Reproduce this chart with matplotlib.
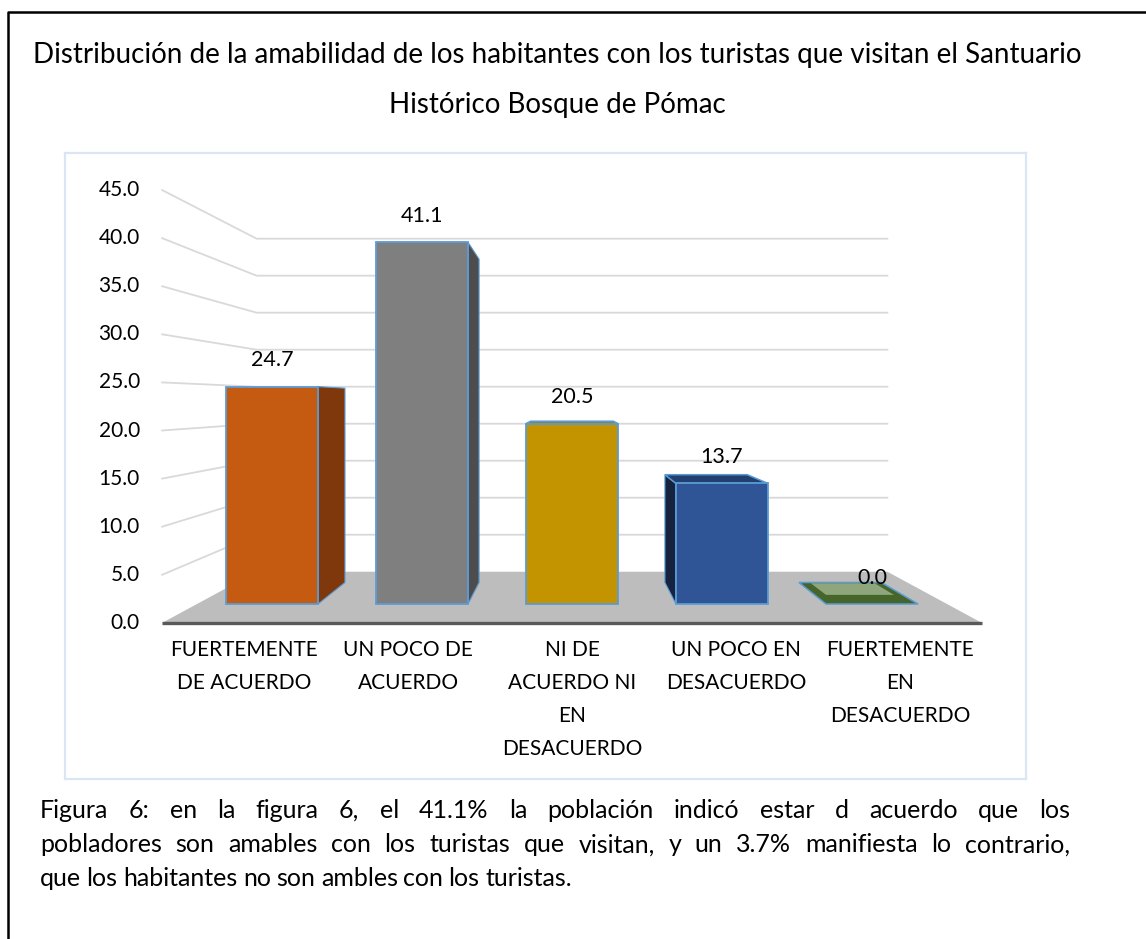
#===============================================================================
# Distribucion de la amabilidad - pseudo 3D column chart (Excel look)
#===============================================================================
import numpy as np
import matplotlib
matplotlib.use("Agg")
import matplotlib.pyplot as plt
from matplotlib.patches import Polygon
from matplotlib.lines import Line2D

plt.rcParams['font.family'] = ['Lato', 'DejaVu Sans']

#===============================================================================
# Data
#===============================================================================
categories = ["FUERTEMENTE\nDE ACUERDO", "UN POCO DE\nACUERDO",
              "NI DE\nACUERDO NI\nEN\nDESACUERDO", "UN POCO EN\nDESACUERDO",
              "FUERTEMENTE\nEN\nDESACUERDO"]
values = [24.7, 41.1, 20.5, 13.7, 0.0]
y_ticks = [0, 5, 10, 15, 20, 25, 30, 35, 40, 45]

front_colors = ["#C55A11", "#7F7F7F", "#C39400", "#2F5597", "#4B6B28"]
side_colors = ["#7E380C", "#4D4D4D", "#7F6000", "#15233F", "#3A5220"]
top_colors = ["#A34A0E", "#6A6A6A", "#A57E00", "#22406F", "#46652A"]

title_lines = ["Distribución de la amabilidad de los habitantes con los turistas que visitan el Santuario",
               "Histórico Bosque de Pómac"]
caption = ["Figura 6: en la figura 6, el 41.1% la población indicó estar d acuerdo que los",
           "pobladores son amables con los turistas que visitan, y un 3.7% manifiesta lo contrario,",
           "que los habitantes no son ambles con los turistas."]

#===============================================================================
# Perspective helpers
#===============================================================================
VX, VY = 2.0, 23.07          # vanishing point (data units)
SF, SB = 1.093, 0.841        # floor front / back depth scale
BF, BB = 1.0, 0.894          # bar front / back depth scale
HALF = 0.307


def proj(x, y, s):
    return VX + (x - VX) * s, VY + (y - VY) * s


W, H = 1146, 939
fig = plt.figure(figsize=(W / 100, H / 100), dpi=100)
fig.patch.set_facecolor("white")

# chart area
bx0, by0, bx1, by1 = 65, 153, 1026, 779
ax = fig.add_axes([bx0 / W, 1 - by1 / H, (bx1 - bx0) / W, (by1 - by0) / H])
ax.set_xlim((bx0 - 272) / 150, (bx1 - 272) / 150)
ax.set_ylim((604 - by1) / 8.8, (604 - by0) / 8.8)
ax.set_xticks([])
ax.set_yticks([])
for sp in ax.spines.values():
    sp.set_color("#DAE6F3")
    sp.set_linewidth(1.6)

n = len(values)
xl, xr = -0.5, n - 0.5

# gridlines: side wall + back wall
for v in y_ticks[1:]:
    pts = np.array([proj(xl, v, SF), proj(xl, v, SB), proj(xr, v, SB)])
    ax.plot(pts[:, 0], pts[:, 1], color="#D9D9D9", lw=1.3, zorder=1)

# floor
floor = [proj(xl, 0, SF), proj(xr, 0, SF), proj(xr, 0, SB), proj(xl, 0, SB)]
ax.add_patch(Polygon(floor, closed=True, facecolor="#BDBDBD", edgecolor="none", zorder=2))
fl = np.array([proj(xl, 0, SF), proj(xr, 0, SF)])
ax.plot(fl[:, 0], fl[:, 1], color="#595959", lw=2.4, zorder=2.5, solid_capstyle="butt")

# y tick labels on the front plane
for v in y_ticks:
    px, py = proj(xl, v, SF)
    ax.annotate("%.1f" % v, (px, py), xytext=(-16, 0), textcoords="offset points",
                ha="right", va="center", fontsize=15, color="#000000")

edge = "#5B9BD5"
for i, v in enumerate(values):
    x0, x1 = i - HALF, i + HALF
    # side face
    if i < VX - 1e-6:
        xs = x1
    elif i > VX + 1e-6:
        xs = x0
    else:
        xs = None
    if xs is not None and v > 0:
        side = [proj(xs, 0, BF), proj(xs, v, BF), proj(xs, v, BB), proj(xs, 0, BB)]
        ax.add_patch(Polygon(side, closed=True, facecolor=side_colors[i],
                             edgecolor=edge, lw=0.8, zorder=3))
    # top face
    if v < VY:
        top = [proj(x0, v, BF), proj(x1, v, BF), proj(x1, v, BB), proj(x0, v, BB)]
        ax.add_patch(Polygon(top, closed=True, facecolor=top_colors[i],
                             edgecolor=edge, lw=1.1, zorder=3.5))
        if v == 0:
            inner = [proj(x0 + 0.08, v, 0.955), proj(x1 - 0.06, v, 0.955),
                     proj(x1 - 0.06, v, BB + 0.004), proj(x0 + 0.08, v, BB + 0.004)]
            ax.add_patch(Polygon(inner, closed=True, facecolor="#8FA67C",
                                 edgecolor="none", zorder=3.6))
    # front face
    if v > 0:
        ax.add_patch(Polygon([(x0, 0), (x1, 0), (x1, v), (x0, v)], closed=True,
                             facecolor=front_colors[i], edgecolor=edge, lw=1.3, zorder=4))
    # value label
    ax.annotate("%.1f" % v, (i, v), xytext=(0, 19), textcoords="offset points",
                ha="center", va="center", fontsize=15.5, color="#000000", zorder=6)
    # category label
    cx, cy = proj(i, 0, SF)
    ax.annotate(categories[i], (cx, cy), xytext=(0, -12), textcoords="offset points",
                ha="center", va="top", fontsize=15, linespacing=1.82, color="#000000")

# title
for k, line in enumerate(title_lines):
    fig.text(557 / W, 1 - (55 + 50 * k) / H, line, ha="center", va="center",
             fontsize=20, color="#000000")

# outer frame (left + top)
fig.add_artist(Line2D([8 / W, 8 / W, 1.0], [0.0, 1 - 12 / H, 1 - 12 / H],
                      transform=fig.transFigure, color="black", lw=1.8))

# justified caption
renderer = fig.canvas.get_renderer()
cx0, cx1 = 40, 1070
cap_y = [810, 845, 879]
for k, line in enumerate(caption):
    words = line.split()
    arts = [fig.text(0, 1 - cap_y[k] / H, w, fontsize=18, va="center", ha="left")
            for w in words]
    widths = [a.get_window_extent(renderer).width for a in arts]
    if k < len(caption) - 1:
        gap = (cx1 - cx0 - sum(widths)) / (len(words) - 1)
    else:
        gap = 5.5
    x = cx0
    for a, wd in zip(arts, widths):
        a.set_x(x / W)
        x += wd + gap

fig.savefig("out.png", dpi=100)
